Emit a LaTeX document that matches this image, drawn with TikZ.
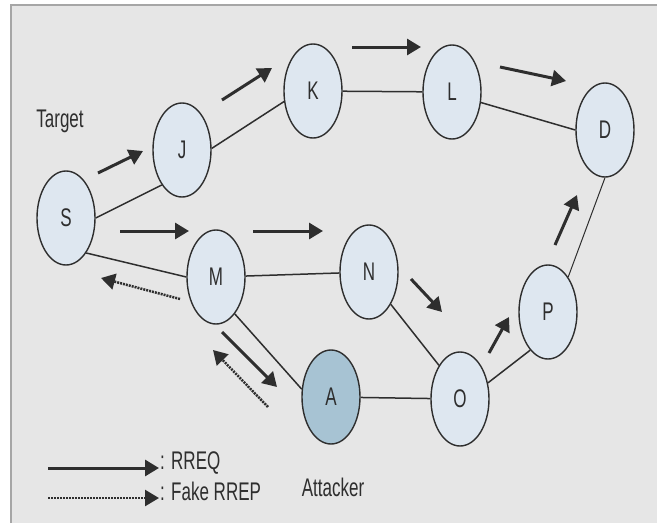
\documentclass[tikz,border=0pt]{standalone}
\usepackage{fontspec}
\setmainfont{Liberation Sans}
\usetikzlibrary{arrows.meta,
                shapes.geometric
            }

\definecolor{panel}{HTML}{E6E6E6}
\definecolor{frameline}{HTML}{A6A6A6}
\definecolor{hostfill}{HTML}{DEE7F0}
\definecolor{evilfill}{HTML}{A7C3D3}
\definecolor{ink}{HTML}{2E2E2E}

% letters in this figure are set tall and narrow
\newcommand{\tall}[1]{\scalebox{1}[1.5]{#1}}

\tikzset{
    host/.style={ellipse, draw=ink, line width=1.4pt, fill=hostfill,
                 minimum width=58pt, minimum height=94pt, inner sep=0pt,
                 font=\fontsize{17}{20}\selectfont, text=ink},
    link/.style={draw=ink, line width=1.5pt},
    req/.style={draw=ink, line width=3pt, -{Triangle[length=14pt, width=16pt]}},
    rrep/.style={draw=ink, line width=2.5pt, dash pattern=on 2pt off 1pt,
                 -{Triangle[length=14pt, width=16pt]}},
    lbl/.style={font=\fontsize{17}{20}\selectfont, text=ink, inner sep=1pt}
}

\begin{document}
\begin{tikzpicture}[x=1pt, y=-1pt]
            \useasboundingbox (0,0) rectangle (657,523);
            \fill[white] (0,0) rectangle (657,523);
            \fill[panel] (11,5) rectangle (657,523);
            \draw[frameline, line width=1.5pt] (11,523) -- (11,5) -- (657,5);

            % hosts
            \node[host] (S) at (66,218) {\tall{S}};
            \node[host] (J) at (182,150) {\tall{J}};
            \node[host] (K) at (313,91) {\tall{K}};
            \node[host] (L) at (452,92) {\tall{L}};
            \node[host] (D) at (605,130) {\tall{D}};
            \node[host] (M) at (216,277) {\tall{M}};
            \node[host] (N) at (369,272) {\tall{N}};
            \node[host, fill=evilfill] (A) at (331,397) {\tall{A}};
            \node[host] (O) at (460,399) {\tall{O}};
            \node[host] (P) at (548,312) {\tall{P}};

            \node[lbl] (target) at (60,121) {\tall{Target}};
            \node[lbl] (attacker) at (333,487) {\tall{Attacker}};

            % links
            \draw[link] (S.0) -- (J.240);
            \draw[link] (J.3) -- (K.200);
            \draw[link] (K) -- (L);
            \draw[link] (L.340) -- (D.180);
            \draw[link] (S.300) -- (M.180);
            \draw[link] (M) -- (N);
            \draw[link] (M.297) -- (A.165);
            \draw[link] (N.304) -- (O.122);
            \draw[link] (A) -- (O);
            \draw[link] (O.30) -- (P.245);
            \draw[link, line width=1pt] (P.60) -- (D.270);

            % route request flow
            \coordinate (r1a) at (98,173);  \coordinate (r1b) at (143,151);
            \coordinate (r2a) at (222,100); \coordinate (r2b) at (272,68);
            \coordinate (r3a) at (352,47);  \coordinate (r3b) at (421,47);
            \coordinate (r4a) at (500,67);  \coordinate (r4b) at (566,81);
            \coordinate (r5a) at (120,231); \coordinate (r5b) at (189,231);
            \coordinate (r6a) at (253,231); \coordinate (r6b) at (323,231);
            \coordinate (r7a) at (411,279); \coordinate (r7b) at (442,312);
            \coordinate (r8a) at (489,353); \coordinate (r8b) at (509,317);
            \coordinate (r9a) at (555,245); \coordinate (r9b) at (577,195);
            \coordinate (r10a) at (222,332); \coordinate (r10b) at (277,387);
            \foreach \i in {1,...,10}
                \draw[req] (r\i a) -- (r\i b);

            % forged reply
            \coordinate (f1a) at (268,407); \coordinate (f1b) at (213,350);
            \coordinate (f2a) at (180,299); \coordinate (f2b) at (101,278);
            \draw[rrep] (f1a) -- (f1b);
            \draw[rrep] (f2a) -- (f2b);

            % key
            \node[lbl, anchor=west] (keyreq) at (159,463) {\tall{: RREQ}};
            \node[lbl, anchor=west] (keyrrep) at (159,491) {\tall{: Fake RREP}};
            \coordinate (k1) at (48,468);
            \coordinate (k2) at (48,498);
            \draw[req] (k1) -- (k1 -| keyreq.west);
            \draw[rrep] (k2) -- (k2 -| keyrrep.west);
        \end{tikzpicture}
\end{document}
